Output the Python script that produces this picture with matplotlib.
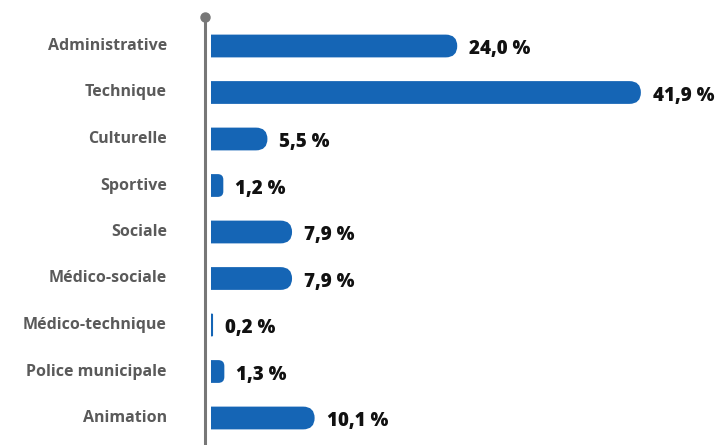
import matplotlib
matplotlib.use("Agg")
import matplotlib.pyplot as plt
from matplotlib.patches import FancyBboxPatch, Rectangle
from matplotlib.lines import Line2D

categories = ["Administrative", "Technique", "Culturelle", "Sportive", "Sociale",
              "Médico-sociale", "Médico-technique", "Police municipale", "Animation"]
values = [24.0, 41.9, 5.5, 1.2, 7.9, 7.9, 0.2, 1.3, 10.1]
value_labels = ["24,0 %", "41,9 %", "5,5 %", "1,2 %", "7,9 %", "7,9 %", "0,2 %", "1,3 %", "10,1 %"]

W, H = 723, 445
fig = plt.figure(figsize=(W / 100, H / 100), dpi=100)
ax_left, ax_right, ax_top, ax_bot = 205, 723, 17, 445
ax = fig.add_axes([ax_left / W, 1 - ax_bot / H, (ax_right - ax_left) / W, (ax_bot - ax_top) / H])

px_per_x = 10.26
x0_px = 211
xmin = -(x0_px - ax_left) / px_per_x
xmax = (ax_right - x0_px) / px_per_x
ax.set_xlim(xmin, xmax)

y0_px, dy_px = 46, 46.5
ytop = (ax_top - y0_px) / dy_px
ybot = (ax_bot - y0_px) / dy_px
ax.set_ylim(ybot, ytop)
ax.axis("off")

bar_h = 0.49
color = "#1565b5"
r_px = 11.5
r_x = r_px / px_per_x
aspect = (1 / dy_px) / (1 / px_per_x)

for i, (v, lab) in enumerate(zip(values, value_labels)):
    rr = min(r_x, max(v * 0.45, 0.05))
    start = -3
    p = FancyBboxPatch((start, i - bar_h / 2), v - start, bar_h,
                       boxstyle=f"round,pad=0,rounding_size={rr}",
                       mutation_aspect=aspect, facecolor=color, edgecolor="none")
    ax.add_patch(p)
    clip = Rectangle((0, i - 1), 100, 2, transform=ax.transData)
    p.set_clip_path(clip)
    ax.text(v + 12 / px_per_x, i + 0.07, lab, ha="left", va="center",
            fontsize=13.5, fontweight=800, family=["Open Sans", "DejaVu Sans"], color="#111111")
    ax.text(-44 / px_per_x, i, categories[i], ha="right", va="center",
            fontsize=11.5, fontweight="bold", family=["Open Sans", "DejaVu Sans"], color="#5a5a5a",
            clip_on=False)

# vertical axis line with dot
fig.add_artist(Line2D([ax_left / W, ax_left / W], [0, 1 - ax_top / H],
                      color="#777777", lw=2.2, transform=fig.transFigure))
fig.add_artist(Line2D([ax_left / W], [1 - ax_top / H], marker="o", markersize=6.5,
                      color="#777777", transform=fig.transFigure))

fig.savefig("out.png", dpi=100)
